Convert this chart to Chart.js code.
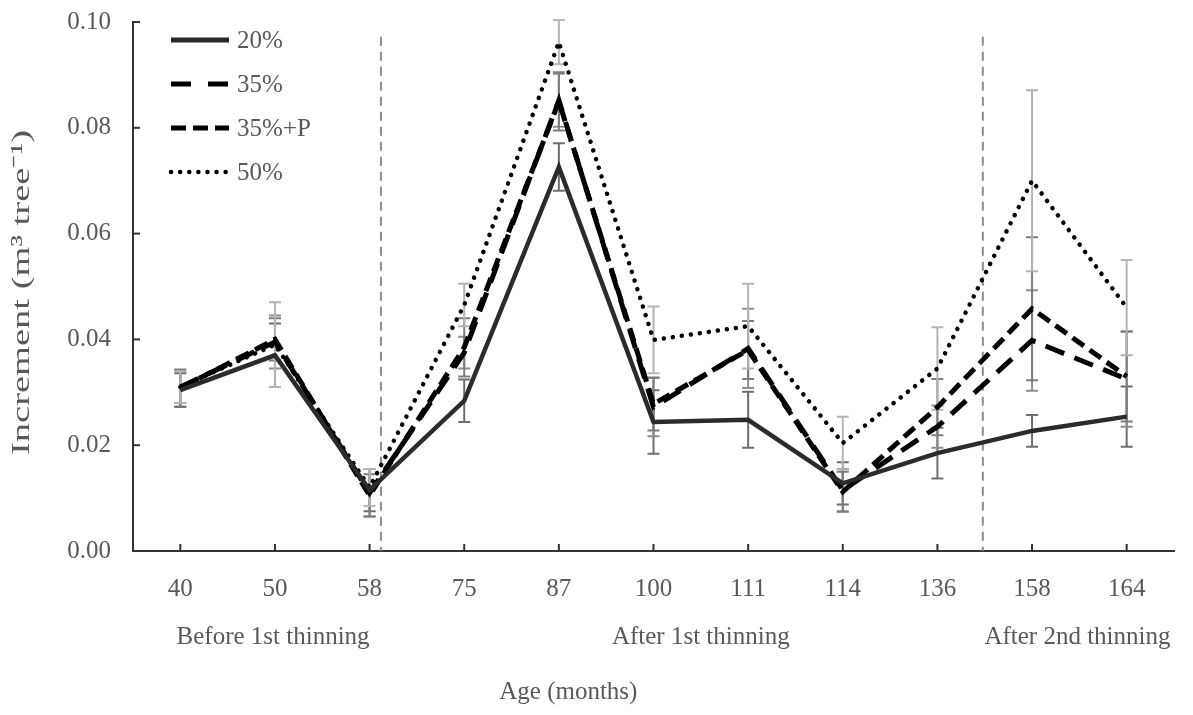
<!DOCTYPE html>
<html>
<head>
<meta charset="utf-8">
<script src="https://cdn.jsdelivr.net/npm/chart.js@4.4.0/dist/chart.umd.min.js"></script>
<style>
  html, body { margin: 0; padding: 0; background: #fff; }
  #wrap { width: 1193px; height: 715px; }
</style>
</head>
<body>
<div id="wrap"><canvas id="c" width="1193" height="715"></canvas></div>
<script>
// Stand age at each measurement (months)
const ages = ['40', '50', '58', '75', '87', '100', '111', '114', '136', '158', '164'];

// Mean volume increment per tree (m3 tree-1) for each thinning intensity
const inc20  = [0.0304, 0.0370, 0.0115, 0.0284, 0.0726, 0.0244, 0.0248, 0.0128, 0.0185, 0.0227, 0.0254];
const inc35  = [0.0310, 0.0395, 0.0110, 0.0375, 0.0852, 0.0272, 0.0383, 0.0115, 0.0235, 0.0398, 0.0325];
const inc35P = [0.0308, 0.0400, 0.0105, 0.0385, 0.0850, 0.0278, 0.0380, 0.0112, 0.0272, 0.0458, 0.0330];
const inc50  = [0.0310, 0.0390, 0.0120, 0.0465, 0.0962, 0.0399, 0.0425, 0.0204, 0.0345, 0.0700, 0.0460];

// Standard deviations
const sd20  = [0.0032, 0.0060, 0.0040, 0.0040, 0.0045, 0.0060, 0.0053, 0.0040, 0.0048, 0.0030, 0.0057];
const sd35  = [0.0030, 0.0050, 0.0045, 0.0030, 0.0050, 0.0055, 0.0075, 0.0040, 0.0040, 0.0095, 0.0090];
const sd35P = [0.0035, 0.0040, 0.0040, 0.0055, 0.0055, 0.0050, 0.0055, 0.0038, 0.0053, 0.0135, 0.0085];
const sd50  = [0.0030, 0.0080, 0.0035, 0.0040, 0.0042, 0.0063, 0.0080, 0.0050, 0.0078, 0.0171, 0.0090];

const yTicks = [0, 0.02, 0.04, 0.06, 0.08, 0.10];

// Period labels under the age axis, and where the thinnings fall (category index units)
const phaseLabels  = ['Before 1st thinning', 'After 1st thinning', 'After 2nd thinning'];
const phaseCenters = [0.98, 5.5, 9.48];
const thinningAt   = [2.12, 8.48];

const yTitle = 'Increment (m³ tree⁻¹)';
const xTitle = 'Age (months)';

const SERIF = '"Liberation Serif", "Times New Roman", serif';
const TEXT = '#595959';
const AXIS = '#333333';

const plugin = {
  id: 'thinningDecor',
  beforeDatasetsDraw(chart) {
    const { ctx, scales: { x, y }, chartArea } = chart;
    ctx.save();
    // thinning markers
    ctx.strokeStyle = '#8c8c8c';
    ctx.lineWidth = 2;
    ctx.setLineDash([9, 6]);
    thinningAt.forEach(v => {
      const px = x.getPixelForValue(v);
      ctx.beginPath();
      ctx.moveTo(px, y.getPixelForValue(0.0972));
      ctx.lineTo(px, chartArea.bottom);
      ctx.stroke();
    });
    ctx.setLineDash([]);
    // error bars
    chart.data.datasets.forEach(ds => {
      ctx.strokeStyle = ds.errColor;
      ctx.lineWidth = 2;
      ds.data.forEach((v, i) => {
        const px = x.getPixelForValue(i);
        const hi = y.getPixelForValue(v + ds.sd[i]);
        const lo = y.getPixelForValue(v - ds.sd[i]);
        ctx.beginPath();
        ctx.moveTo(px, hi); ctx.lineTo(px, lo);
        ctx.moveTo(px - 6, hi); ctx.lineTo(px + 6, hi);
        ctx.moveTo(px - 6, lo); ctx.lineTo(px + 6, lo);
        ctx.stroke();
      });
    });
    ctx.restore();
  },
  afterDraw(chart) {
    const { ctx, scales: { x, y }, chartArea } = chart;
    ctx.save();
    // inward tick marks
    ctx.strokeStyle = AXIS;
    ctx.lineWidth = 2;
    x.ticks.forEach((t, i) => {
      const px = x.getPixelForTick(i);
      ctx.beginPath();
      ctx.moveTo(px, chartArea.bottom);
      ctx.lineTo(px, chartArea.bottom - 7);
      ctx.stroke();
    });
    y.ticks.forEach((t, i) => {
      const py = y.getPixelForTick(i);
      ctx.beginPath();
      ctx.moveTo(chartArea.left, py);
      ctx.lineTo(chartArea.left + 7, py);
      ctx.stroke();
    });
    // period labels and axis titles
    ctx.fillStyle = TEXT;
    ctx.font = '25px ' + SERIF;
    ctx.textAlign = 'center';
    ctx.textBaseline = 'middle';
    phaseLabels.forEach((s, i) => {
      ctx.fillText(s, x.getPixelForValue(phaseCenters[i]), chartArea.bottom + 86);
    });
    ctx.fillText(xTitle, x.getPixelForValue(4.1), chartArea.bottom + 141);

    ctx.save();
    ctx.font = '26px ' + SERIF;
    const w = ctx.measureText(yTitle).width;
    ctx.translate(22, (chartArea.top + chartArea.bottom) / 2 + 6);
    ctx.rotate(-Math.PI / 2);
    ctx.scale(325 / w, 1);
    ctx.fillText(yTitle, 0, 0);
    ctx.restore();

    // legend
    ctx.font = '25px ' + SERIF;
    const lx0 = chartArea.left + 38, lx1 = chartArea.left + 96;
    chart.data.datasets.forEach((ds, i) => {
      const ly = chartArea.top + 18 + i * 44;
      ctx.strokeStyle = ds.borderColor;
      ctx.lineWidth = ds.legendWidth;
      ctx.lineCap = ds.borderCapStyle || 'butt';
      ctx.setLineDash(ds.legendDash);
      ctx.beginPath();
      ctx.moveTo(lx0, ly);
      ctx.lineTo(lx1, ly);
      ctx.stroke();
      ctx.setLineDash([]);
      ctx.textAlign = 'left';
      ctx.fillStyle = TEXT;
      ctx.fillText(ds.label, lx1 + 8, ly + 1);
    });
    ctx.restore();
  }
};

new Chart(document.getElementById('c'), {
  type: 'line',
  data: {
    labels: ages,
    datasets: [
      { label: '20%', data: inc20, sd: sd20, errColor: '#6e6e6e',
        borderColor: '#2b2b2b', borderWidth: 4.5, borderDash: [],
        legendDash: [], legendWidth: 5 },
      { label: '35%', data: inc35, sd: sd35, errColor: '#8e8e8e',
        borderColor: '#000', borderWidth: 5, borderDash: [20, 11],
        legendDash: [20, 17], legendWidth: 5 },
      { label: '35%+P', data: inc35P, sd: sd35P, errColor: '#7c7c7c',
        borderColor: '#000', borderWidth: 5, borderDash: [14, 7],
        legendDash: [15, 7], legendWidth: 5 },
      { label: '50%', data: inc50, sd: sd50, errColor: '#b4b4b4',
        borderColor: '#000', borderWidth: 4.5, borderDash: [0.1, 9], borderCapStyle: 'round',
        legendDash: [0.1, 9], legendWidth: 4.5 }
    ].map(d => Object.assign({ pointRadius: 0, pointHoverRadius: 0, tension: 0, fill: false }, d))
  },
  options: {
    responsive: false,
    animation: false,
    layout: { padding: { top: 22, right: 19, left: 0, bottom: 0 } },
    plugins: { legend: { display: false }, tooltip: { enabled: false } },
    scales: {
      x: {
        type: 'category',
        offset: true,
        grid: { display: false, drawTicks: false },
        border: { display: true, color: AXIS, width: 2 },
        ticks: { color: TEXT, font: { family: SERIF, size: 25 }, padding: 23, maxRotation: 0 },
        afterFit(s) { s.height = 164; s.paddingLeft = 0; s.paddingRight = 0; }
      },
      y: {
        min: 0, max: 0.10,
        afterBuildTicks(s) { s.ticks = yTicks.map(v => ({ value: v })); },
        grid: { display: false, drawTicks: false },
        border: { display: true, color: AXIS, width: 2 },
        ticks: { color: TEXT, font: { family: SERIF, size: 25 }, padding: 22,
                 callback: v => v.toFixed(2) },
        afterFit(s) { s.width = 133; s.paddingTop = 0; s.paddingBottom = 0; }
      }
    }
  },
  plugins: [plugin]
});
</script>
</body>
</html>
